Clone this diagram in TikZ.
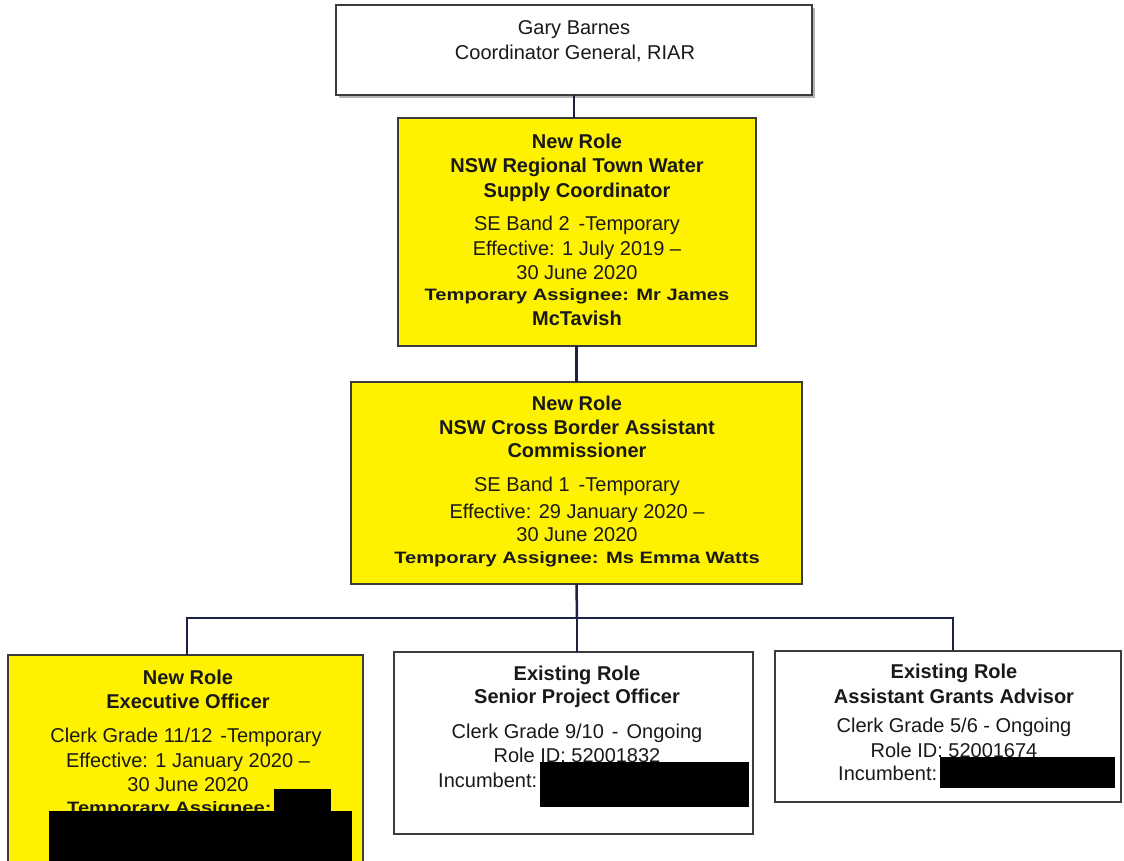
\documentclass[tikz,border=0pt]{standalone}
\usepackage{graphicx}
\usepackage{fontspec}
\setmainfont{Liberation Sans}
\usetikzlibrary{shadows}
\definecolor{roleyellow}{RGB}{255,242,0}
\definecolor{ink}{RGB}{25,25,25}
\definecolor{boxline}{RGB}{60,60,60}
\definecolor{navy}{RGB}{28,33,69}
\definecolor{shade}{RGB}{160,160,160}
\tikzset{
  box/.style={draw=boxline, line width=1.3pt, inner sep=0pt, outer sep=0pt, anchor=north west},
  newbox/.style={box, fill=roleyellow},
  oldbox/.style={box, fill=white},
  shadowed/.style={drop shadow={shadow xshift=3pt, shadow yshift=-3pt, fill=shade, opacity=0.8}},
  conn/.style={draw=navy, line width=2.5pt},
  txt/.style={anchor=base, inner sep=0pt, text=ink, font=\fontsize{20}{24}\selectfont},
  btxt/.style={txt, font=\fontsize{20}{24}\selectfont\bfseries},
  wtxt/.style={txt, font=\fontsize{16.5}{19}\selectfont\bfseries},
  ltxt/.style={txt, anchor=base west},
  redact/.style={fill=black, inner sep=0pt, outer sep=0pt, anchor=north west}
}
\newcommand{\widen}[1]{\scalebox{1.22}[1]{#1}}
\begin{document}
\begin{tikzpicture}[x=1pt, y=-1pt]
\useasboundingbox (0,0) rectangle (1124,860);
% boxes
\node[oldbox, shadowed, minimum width=476pt, minimum height=90pt] (gb) at (336,5) {};
\node[newbox, minimum width=358pt, minimum height=228pt] (rtw) at (398,118) {};
\node[newbox, minimum width=451pt, minimum height=202pt] (cba) at (351,382) {};
\node[newbox, minimum width=355pt, minimum height=215pt] (eo) at (8,655) {};
\node[oldbox, minimum width=359pt, minimum height=182pt] (spo) at (394,652) {};
\node[oldbox, minimum width=346pt, minimum height=151pt] (aga) at (775,651) {};
% connectors
\coordinate (bus) at (577,618);
\coordinate (busL) at (187,618);
\coordinate (busR) at (953,618);
\draw[conn] (gb.south) -- (gb.south |- rtw.north);
\draw[conn] (rtw.south -| cba.north) -- (cba.north);
\draw[conn] (cba.south) -- (bus);
\draw[conn, line cap=rect] (busL) -- (busR);
\draw[conn] (busL) -- (busL |- eo.north);
\draw[conn] (bus) -- (bus |- spo.north);
\draw[conn] (busR) -- (busR |- aga.north);
% top box text
\node[txt] (gb1) at (574,34) {Gary Barnes};
\node[txt] (gb2) at (575,59) {Coordinator General, RIAR};
% regional town water
\node[btxt] (rtw1) at (577,148) {New Role};
\node[btxt] (rtw2) at (577,172) {NSW Regional Town Water};
\node[btxt] (rtw3) at (577,197) {Supply Coordinator};
\node[txt] (rtw4) at (577,230) {SE Band 2\hspace{9pt}-Temporary};
\node[txt] (rtw5) at (577,255) {Effective: 1 July 2019 –};
\node[txt] (rtw6) at (577,279) {30 June 2020};
\node[wtxt] (rtw7) at (577,300) {\widen{Temporary Assignee: Mr James}};
\node[btxt] (rtw8) at (577,325) {McTavish};
% cross border
\node[btxt] (cba1) at (577,410) {New Role};
\node[btxt] (cba2) at (577,434) {NSW Cross Border Assistant};
\node[btxt] (cba3) at (577,457) {Commissioner};
\node[txt] (cba4) at (577,491) {SE Band 1\hspace{9pt}-Temporary};
\node[txt] (cba5) at (577,518) {Effective: 29 January 2020 –};
\node[txt] (cba6) at (577,541) {30 June 2020};
\node[wtxt] (cba7) at (577,563) {\widen{Temporary Assignee: Ms Emma Watts}};
% executive officer
\node[btxt] (eo1) at (188,684) {New Role};
\node[btxt] (eo2) at (188,708) {Executive Officer};
\node[txt] (eo3) at (186,742) {Clerk Grade 11/12\hspace{8pt}-Temporary};
\node[txt] (eo4) at (188,767) {Effective: 1 January 2020 –};
\node[txt] (eo5) at (188,791) {30 June 2020};
\node[wtxt, anchor=base west] (eo6) at (67,813) {\widen{Temporary Assignee:}};
% senior project officer
\node[btxt] (spo1) at (577,680) {Existing Role};
\node[btxt] (spo2) at (577,703) {Senior Project Officer};
\node[txt] (spo3) at (577,738) {Clerk Grade 9/10\hspace{8pt}-\hspace{8pt}Ongoing};
\node[txt] (spo4) at (577,762) {Role ID: 52001832};
\node[ltxt] (spo5) at (438,787) {Incumbent:};
% assistant grants advisor
\node[btxt] (aga1) at (954,678) {Existing Role};
\node[btxt] (aga2) at (954,703) {Assistant Grants Advisor};
\node[txt] (aga3) at (954,732) {Clerk Grade 5/6 - Ongoing};
\node[txt] (aga4) at (954,757) {Role ID: 52001674};
\node[ltxt] (aga5) at (838,780) {Incumbent:};
% redactions
\node[redact, minimum width=57pt, minimum height=24pt] (rd1) at (274,789) {};
\node[redact, minimum width=303pt, minimum height=55pt] (rd2) at (49,811) {};
\node[redact, minimum width=209pt, minimum height=45pt] (rd3) at (540,762) {};
\node[redact, minimum width=175pt, minimum height=31pt] (rd4) at (940,757) {};
\end{tikzpicture}
\end{document}
